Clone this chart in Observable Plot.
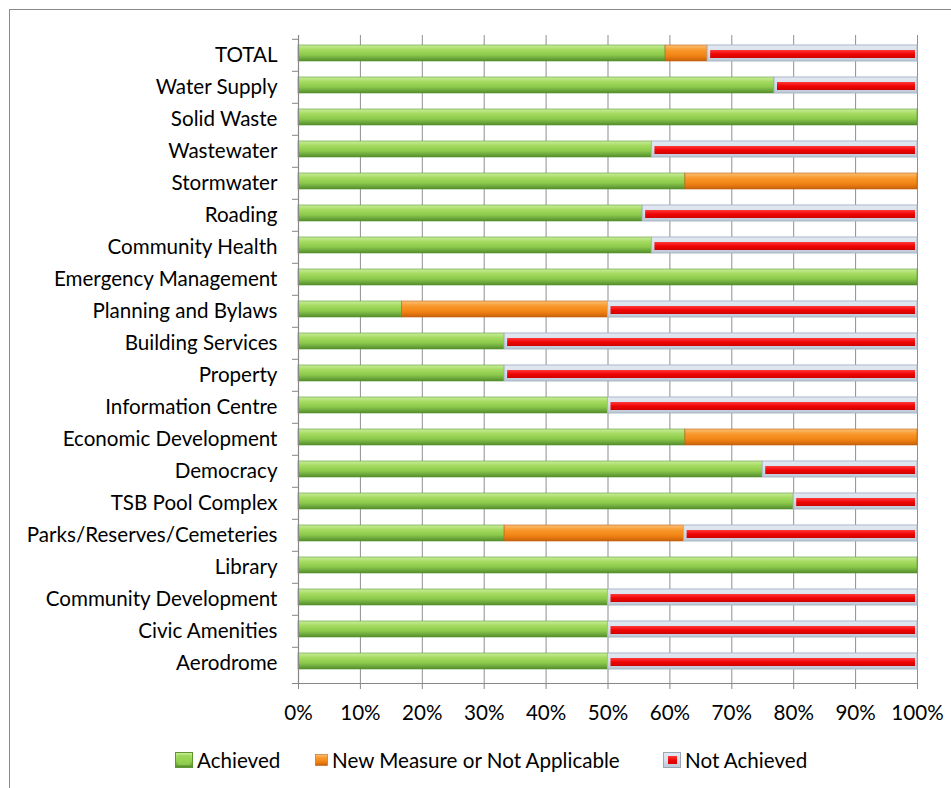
<!DOCTYPE html>
<html>
<head>
<meta charset="utf-8">
<script src="https://cdn.jsdelivr.net/npm/d3@7"></script>
<script src="https://cdn.jsdelivr.net/npm/@observablehq/plot@0.6"></script>
<style>
  html, body { margin: 0; padding: 0; background: #fff; overflow: hidden; width: 951px; height: 788px; }
  #frame { position: absolute; left: 9px; top: 9px; width: 1000px; height: 1000px;
           border-left: 1.5px solid #8a8a8a; border-top: 1.5px solid #8a8a8a; box-sizing: border-box; }
  #chart { position: absolute; left: 0; top: 0; }
  #legend { position: absolute; left: 0; top: 748px; width: 951px; height: 24px; }
  .item { position: absolute; top: 0; height: 24px; display: flex; align-items: center; white-space: nowrap; color: #000; }
  .item svg { display: block; }
</style>
</head>
<body>
<svg width="0" height="0" style="position:absolute">
  <defs>
    <linearGradient id="gGreen" x1="0" y1="0" x2="0" y2="1">
      <stop offset="0" stop-color="#cdeea0"/>
      <stop offset="0.25" stop-color="#a8dd66"/>
      <stop offset="0.6" stop-color="#8ecb4a"/>
      <stop offset="0.85" stop-color="#6aa63a"/>
      <stop offset="1" stop-color="#4e8a2a"/>
    </linearGradient>
    <linearGradient id="gOrange" x1="0" y1="0" x2="0" y2="1">
      <stop offset="0" stop-color="#fcc07a"/>
      <stop offset="0.3" stop-color="#f99a2c"/>
      <stop offset="0.7" stop-color="#f08012"/>
      <stop offset="1" stop-color="#c8600a"/>
    </linearGradient>
    <linearGradient id="gRedOuter" x1="0" y1="0" x2="0" y2="1">
      <stop offset="0" stop-color="#e4eaf2"/>
      <stop offset="0.5" stop-color="#d6dee9"/>
      <stop offset="1" stop-color="#bcc7d5"/>
    </linearGradient>
    <linearGradient id="gRed" x1="0" y1="0" x2="0" y2="1">
      <stop offset="0" stop-color="#ff3a3a"/>
      <stop offset="0.5" stop-color="#ee0505"/>
      <stop offset="1" stop-color="#d00000"/>
    </linearGradient>
  </defs>
</svg>
<div id="frame"></div>
<div id="chart"></div>
<div id="legend"></div>
<script>
// ---- data (percent) ----
const categories = [
  "TOTAL", "Water Supply", "Solid Waste", "Wastewater", "Stormwater", "Roading",
  "Community Health", "Emergency Management", "Planning and Bylaws", "Building Services",
  "Property", "Information Centre", "Economic Development", "Democracy", "TSB Pool Complex",
  "Parks/Reserves/Cemeteries", "Library", "Community Development", "Civic Amenities", "Aerodrome"
];
const achieved    = [59.3, 76.9, 100, 57.1, 62.5, 55.6, 57.1, 100, 16.7, 33.3, 33.3, 50, 62.5, 75, 80, 33.3, 100, 50, 50, 50];
const newMeasure  = [6.8,  0,    0,   0,    37.5, 0,    0,    0,   33.3, 0,    0,    0,  37.5, 0,  0,  29.0, 0,   0,  0,  0];
const notAchieved = [33.9, 23.1, 0,   42.9, 0,    44.4, 42.9, 0,   50,   66.7, 66.7, 50, 0,    25, 20, 37.7, 0,   50, 50, 50];
const seriesNames = ["Achieved", "New Measure or Not Applicable", "Not Achieved"];
const xTicks = [0, 0.1, 0.2, 0.3, 0.4, 0.5, 0.6, 0.7, 0.8, 0.9, 1];

// ---- font sizing (Calibri-like metrics matched by width) ----
const FAMILY = "Lato, 'Open Sans', sans-serif";
const ctx = document.createElement("canvas").getContext("2d");
ctx.font = "100px Lato";
const targets = [["Economic Development", 217], ["Emergency Management", 229], ["Parks/Reserves/Cemeteries", 242]];
let ratio = 0;
for (const [t, w] of targets) ratio += w / ctx.measureText(t).width;
const FS = Math.round((ratio / targets.length) * 100 * 10) / 10;

// ---- rows built from arrays ----
const rows = categories.map((cat, i) => {
  const a = achieved[i] / 100, n = newMeasure[i] / 100, r = notAchieved[i] / 100;
  return {cat, a0: 0, a1: a, n0: a, n1: a + n, r0: a + n, r1: a + n + r};
});

const H = 728, MT = 35, MB = 45, ML = 298, MR = 34;
const bw = (H - MT - MB) / categories.length;
const axisColor = "#878787";

const chart = Plot.plot({
  width: 951,
  height: H,
  marginTop: MT,
  marginBottom: MB,
  marginLeft: ML,
  marginRight: MR,
  style: {fontFamily: FAMILY, fontSize: FS + "px", color: "#000", background: "transparent"},
  x: {domain: [0, 1], label: null},
  y: {domain: categories, padding: 0, label: null},
  marks: [
    Plot.gridX(xTicks, {stroke: "#8f8f8f", strokeOpacity: 1, strokeWidth: 1}),
    Plot.barX(rows, {filter: d => d.a1 > d.a0, x1: "a0", x2: "a1", y: "cat",
      fill: "url(#gGreen)", stroke: "#5f9632", strokeWidth: 0.6, insetTop: 6, insetBottom: 10}),
    Plot.barX(rows, {filter: d => d.n1 > d.n0, x1: "n0", x2: "n1", y: "cat",
      fill: "url(#gOrange)", stroke: "#c0600e", strokeWidth: 0.6, insetTop: 6, insetBottom: 10}),
    Plot.barX(rows, {filter: d => d.r1 > d.r0, x1: "r0", x2: "r1", y: "cat",
      fill: "url(#gRedOuter)", stroke: "#aab6c6", strokeWidth: 1, insetTop: 6, insetBottom: 10}),
    Plot.barX(rows, {filter: d => d.r1 > d.r0, x1: "r0", x2: "r1", y: "cat",
      fill: "url(#gRed)", insetTop: 11, insetBottom: 13, insetLeft: 3, insetRight: 2}),
    Plot.ruleX([0], {stroke: axisColor, strokeWidth: 1.2}),
    Plot.frame({anchor: "bottom", stroke: axisColor, strokeWidth: 1.2, insetLeft: -6}),
    Plot.axisX({ticks: xTicks, tickSize: 6, tickPadding: 16, stroke: axisColor,
      tickFormat: d3.format(".0%"), fill: "#000", label: null}),
    Plot.axisY({tickSize: 0, tickPadding: 21, fill: "#000", label: null}),
    Plot.axisY({tickSize: 6, tickFormat: () => "", dy: -bw / 2, stroke: axisColor, label: null})
  ]
});
document.getElementById("chart").appendChild(chart);

// ---- legend ----
const legendIcons = [
  `<svg width="18" height="16"><rect x="0.5" y="0.5" width="17" height="15" fill="url(#gGreen)" stroke="#5f9632"/><rect x="3" y="3" width="12" height="10" fill="#97d356" opacity="0.7"/></svg>`,
  `<svg width="13" height="12"><rect x="0.5" y="0.5" width="12" height="11" fill="url(#gOrange)" stroke="#c0600e" stroke-width="0.6"/></svg>`,
  `<svg width="18" height="16"><rect x="0.5" y="0.5" width="17" height="15" fill="url(#gRedOuter)" stroke="#9aa7b8"/><rect x="5" y="4" width="9" height="8" fill="url(#gRed)"/></svg>`
];
const legendX = [175, 315, 663];
const legend = document.getElementById("legend");
seriesNames.forEach((name, i) => {
  const it = document.createElement("div");
  it.className = "item";
  it.style.left = legendX[i] + "px";
  it.style.fontFamily = FAMILY;
  it.style.fontSize = FS + "px";
  it.innerHTML = legendIcons[i] + `<span style="margin-left:4px">${name}</span>`;
  legend.appendChild(it);
});
</script>
</body>
</html>
